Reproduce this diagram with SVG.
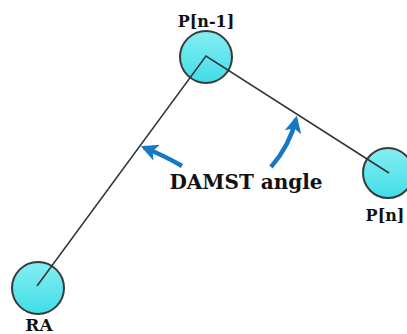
<svg xmlns="http://www.w3.org/2000/svg" width="407" height="334" viewBox="0 0 407 334">
  <style>
    .node { stroke: #3a3a3a; stroke-width: 2; fill: url(#ball); }
    .label { font-family: 'DejaVu Serif', serif; font-weight: bold; fill: #111; text-anchor: middle; }
    .edge { stroke: #333; stroke-width: 1.5; fill: none; }
    .pointer { stroke: #1677c4; stroke-width: 4.5; fill: none; }
  </style>
  <defs>
    <linearGradient id="ball" x1="0" y1="0" x2="0" y2="1">
      <stop offset="0" stop-color="#86eef2"/>
      <stop offset="1" stop-color="#3fdde8"/>
    </linearGradient>
    <!-- notched arrowhead shared by both angle pointers -->
    <marker id="head" viewBox="0 0 10 10" refX="8" refY="5" markerWidth="3.8" markerHeight="3.8" orient="auto" markerUnits="strokeWidth">
      <path d="M0,0 L10,5 L0,10 L2.5,5 Z" fill="#1677c4"/>
    </marker>
  </defs>

  <g id="node-ra">
    <circle class="node" cx="38" cy="288" r="26"/>
    <text class="label" x="39" y="331" font-size="17">RA</text>
  </g>
  <g id="node-pn1">
    <circle class="node" cx="206" cy="57" r="26"/>
    <text class="label" x="206" y="27" font-size="16">P[n-1]</text>
  </g>
  <g id="node-pn">
    <circle class="node" cx="388" cy="173" r="25"/>
    <text class="label" x="385" y="221" font-size="16">P[n]</text>
  </g>

  <g id="connectors">
    <polyline class="edge" points="37,286 206,56 389,173"/>
    <path class="pointer" d="M182,166 Q165,156 144,147.5" marker-end="url(#head)"/>
    <path class="pointer" d="M271,167 Q290,145 296,119" marker-end="url(#head)"/>
  </g>

  <text id="angle-label" class="label" x="246" y="189" font-size="20">DAMST angle</text>
</svg>
